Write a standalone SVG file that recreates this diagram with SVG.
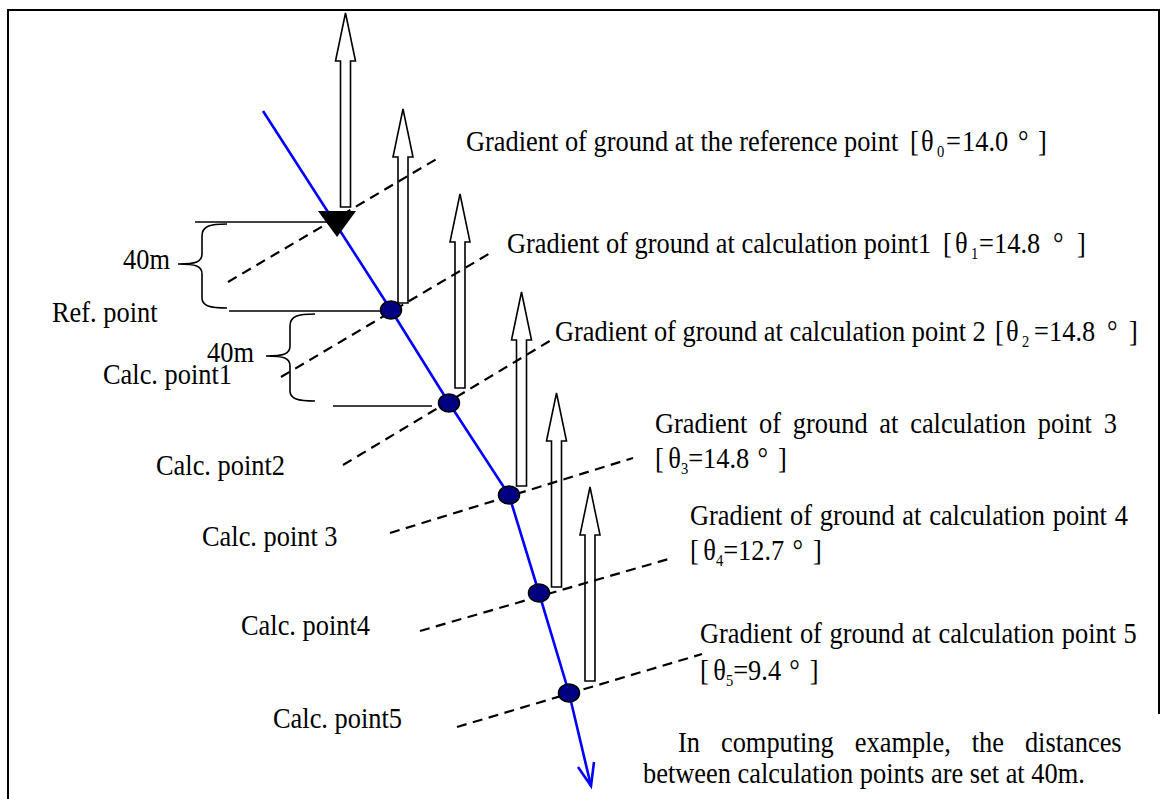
<svg xmlns="http://www.w3.org/2000/svg" width="1162" height="799" viewBox="0 0 1162 799">
<style>
text{font-family:"Liberation Serif","Times New Roman",serif;font-size:29px;fill:#000}
.sub{font-size:16px}
.dash{stroke:#000;stroke-width:2.2;stroke-dasharray:10 6.5;fill:none}
.blk{fill:#fff;stroke:#000;stroke-width:1.6;stroke-linejoin:miter}
.pt{fill:#000080;stroke:#000;stroke-width:1.5}
.ln{stroke:#000;stroke-width:1.6;fill:none}
.frame{stroke:#000;stroke-width:2;fill:none}
</style>
<defs>
<path id="blkArrow" d="M0,0 L10,48 L5,48 L5,194 L-5,194 L-5,48 L-10,48 Z"/>
</defs>
<rect width="1162" height="799" fill="#fff"/>
<g id="frame">
<line class="frame" x1="7" y1="10" x2="1160" y2="10"/>
<line class="frame" x1="8" y1="10" x2="8" y2="799"/>
<line class="frame" x1="1159" y1="10" x2="1159" y2="714" stroke-width="2.5"/>
</g>
<g id="load-arrows">
<use href="#blkArrow" class="blk" transform="translate(345.5,13)"/>
<use href="#blkArrow" class="blk" transform="translate(403,109)"/>
<use href="#blkArrow" class="blk" transform="translate(460,194)"/>
<use href="#blkArrow" class="blk" transform="translate(521.5,292)"/>
<use href="#blkArrow" class="blk" transform="translate(556.5,393)"/>
<use href="#blkArrow" class="blk" transform="translate(590,487)"/>
</g>
<g id="gradient-lines">
<line class="dash" x1="228" y1="282" x2="440" y2="157"/>
<line class="dash" x1="281" y1="377" x2="492" y2="252"/>
<line class="dash" x1="343" y1="465" x2="553" y2="339"/>
<line class="dash" x1="390" y1="533" x2="633" y2="458"/>
<line class="dash" x1="420" y1="631" x2="672" y2="558"/>
<line class="dash" x1="457" y1="727" x2="702" y2="654"/>
</g>
<g id="dimensions">
<line class="ln" x1="195" y1="222" x2="327" y2="222"/>
<line class="ln" x1="229" y1="311" x2="390" y2="311"/>
<line class="ln" x1="333" y1="406" x2="432" y2="406"/>
<path class="ln" d="M227,224 C210,224 202,226 202,236 L202,254 C202,262 196,264 178,264 M178,264 C196,264 202,266 202,274 L202,298 C202,306 210,308 227,308"/>
<path class="ln" d="M315,314 C298,314 290,316 290,326 L290,346 C290,354 284,356 266,356 M266,356 C284,356 290,358 290,366 L290,391 C290,399 298,401 315,401"/>
</g>
<g id="connectors">
<polyline points="263,111 391,310 449,403 509,495 539,593 569,693 591,786" fill="none" stroke="#0000ff" stroke-width="2.6"/>
<polyline points="578,767 591,786 594,762" fill="none" stroke="#0000ff" stroke-width="2.6"/>
</g>
<g id="ref-point"><polygon points="318,211 356,211 337,237" fill="#000"/></g>
<g id="calc-point1"><ellipse class="pt" cx="391" cy="310" rx="10.5" ry="9"/></g>
<g id="calc-point2"><ellipse class="pt" cx="449" cy="403" rx="10.5" ry="9"/></g>
<g id="calc-point3"><ellipse class="pt" cx="509" cy="495" rx="10.5" ry="9"/></g>
<g id="calc-point4"><ellipse class="pt" cx="539" cy="593" rx="10.5" ry="9"/></g>
<g id="calc-point5"><ellipse class="pt" cx="569" cy="693" rx="10.5" ry="9"/></g>
<g id="left-labels">
<text transform="matrix(0.91 0 0 1 123 269)">40m</text>
<text transform="matrix(0.91 0 0 1 52 322)">Ref. point</text>
<text transform="matrix(0.91 0 0 1 207 362)">40m</text>
<text transform="matrix(0.91 0 0 1 103 384)">Calc. point1</text>
<text transform="matrix(0.91 0 0 1 156 475)">Calc. point2</text>
<text transform="matrix(0.91 0 0 1 202 546)">Calc. point 3</text>
<text transform="matrix(0.91 0 0 1 241 635)">Calc. point4</text>
<text transform="matrix(0.91 0 0 1 273 728)">Calc. point5</text>
</g>
<g id="right-labels">
<text transform="matrix(0.91 0 0 1 466 151)">Gradient of ground at the reference point<tspan x="487.9">[</tspan><tspan x="500">θ</tspan><tspan class="sub" x="517.6" dy="6">0</tspan><tspan x="527.5" dy="-6">=</tspan><tspan x="545.1">14.0</tspan><tspan x="606.6">°</tspan><tspan x="628.6">]</tspan></text>
<text transform="matrix(0.91 0 0 1 507 253)">Gradient of ground at calculation point1<tspan x="479.1">[</tspan><tspan x="492.3">θ</tspan><tspan class="sub" x="509.9" dy="6">1</tspan><tspan x="518.7" dy="-6">=</tspan><tspan x="535.2">14.8</tspan><tspan x="600">°</tspan><tspan x="626.4">]</tspan></text>
<text transform="matrix(0.91 0 0 1 555 341)">Gradient of ground at calculation point 2<tspan x="483.5">[</tspan><tspan x="495.6">θ</tspan><tspan class="sub" x="513.2" dy="6">2</tspan><tspan x="526.4" dy="-6">=</tspan><tspan x="542.9">14.8</tspan><tspan x="606.6">°</tspan><tspan x="630.8">]</tspan></text>
<text transform="matrix(0.91 0 0 1 655 433)" word-spacing="5.7">Gradient of ground at calculation point 3</text>
<text transform="matrix(0.91 0 0 1 655 468)">[<tspan dx="5">θ</tspan><tspan class="sub" dy="6">3</tspan><tspan dy="-6">=14.8</tspan><tspan dx="9">°</tspan><tspan dx="11">]</tspan></text>
<text transform="matrix(0.91 0 0 1 690 525)" word-spacing="1.3">Gradient of ground at calculation point 4</text>
<text transform="matrix(0.91 0 0 1 690 560)">[<tspan dx="5">θ</tspan><tspan class="sub" dy="6">4</tspan><tspan dy="-6">=12.7</tspan><tspan dx="9">°</tspan><tspan dx="11">]</tspan></text>
<text transform="matrix(0.91 0 0 1 700 643)" word-spacing="1.1">Gradient of ground at calculation point 5</text>
<text transform="matrix(0.91 0 0 1 700 680)">[<tspan dx="5">θ</tspan><tspan class="sub" dy="6">5</tspan><tspan dy="-6">=9.4</tspan><tspan dx="9">°</tspan><tspan dx="11">]</tspan></text>
</g>
<g id="note">
<text transform="matrix(0.91 0 0 1 678 752)" word-spacing="15.8">In computing example, the distances</text>
<text transform="matrix(0.91 0 0 1 643 783)">between calculation points are set at 40m.</text>
</g>
</svg>
